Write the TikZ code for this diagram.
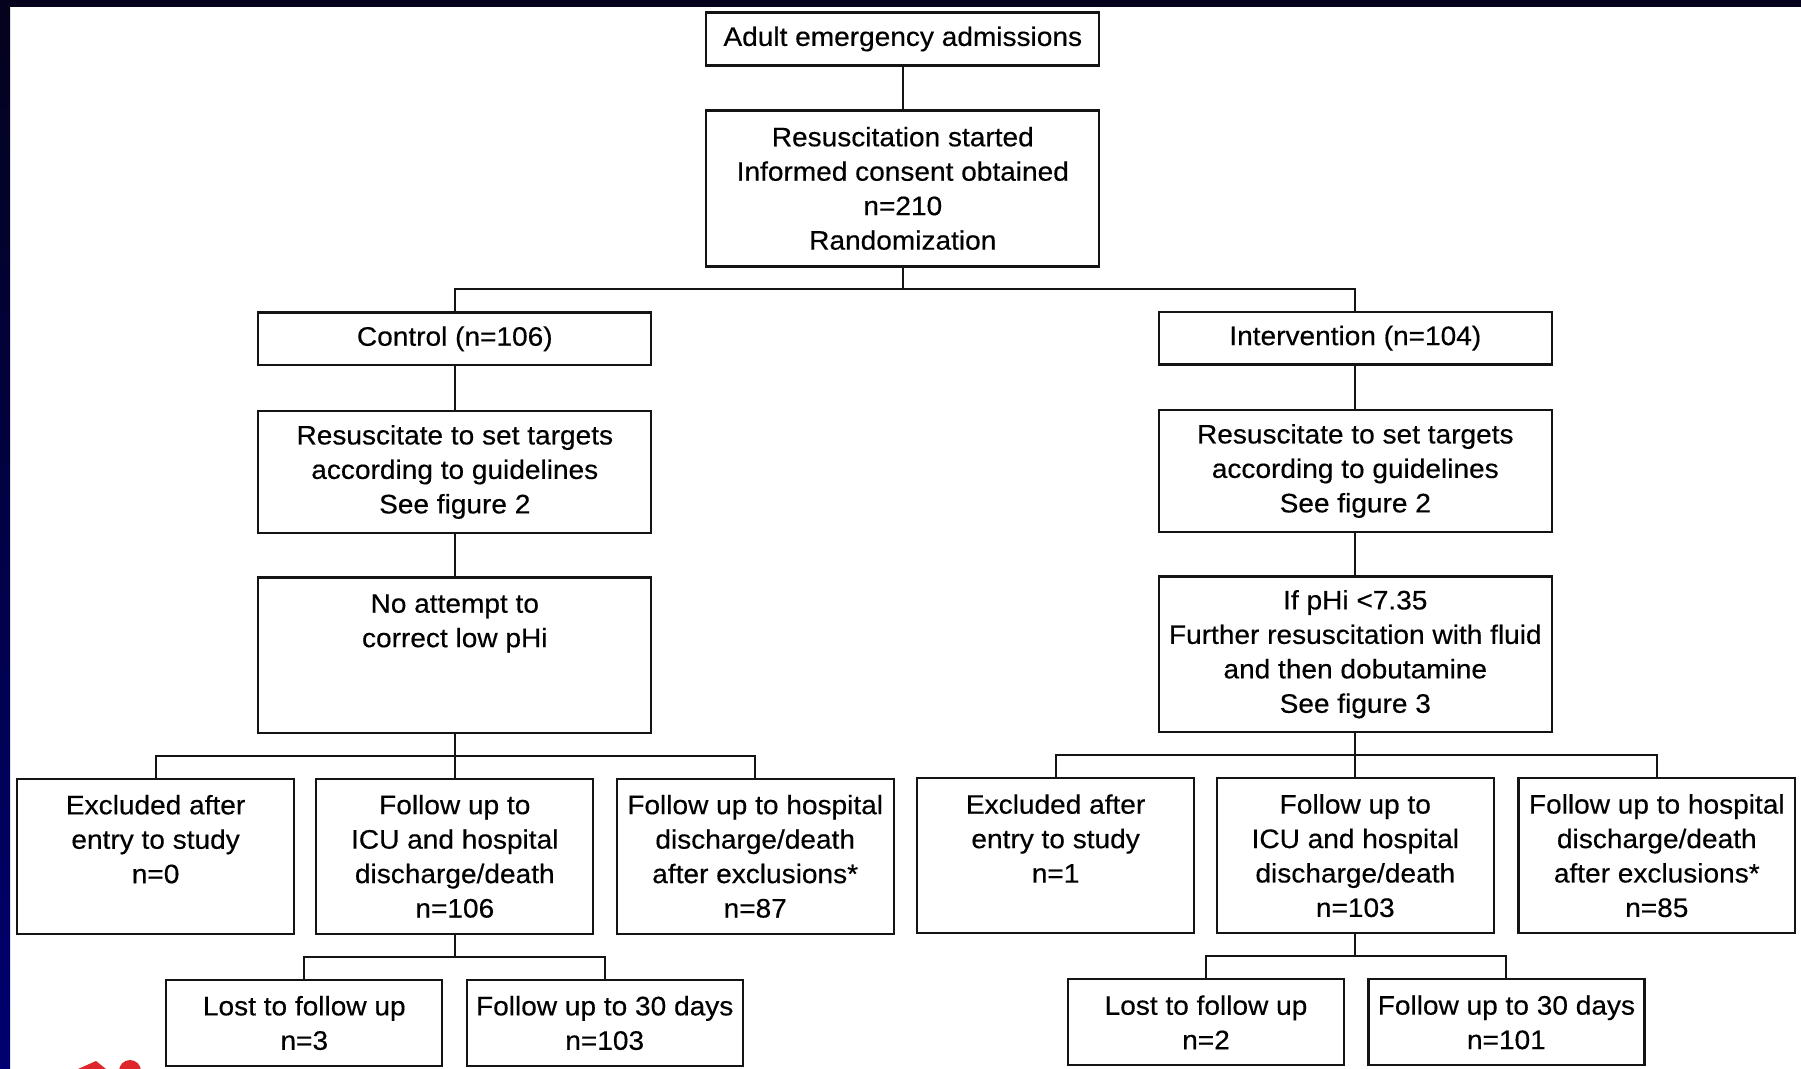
\documentclass[tikz,border=0pt]{standalone}
\usepackage{fontspec}
\setmainfont{Liberation Sans}[FakeStretch=1.05,FakeBold=0.4]
\definecolor{frametop}{RGB}{4,2,28}
\definecolor{framenavy}{RGB}{0,0,112}
\definecolor{inkline}{RGB}{20,20,20}
\definecolor{markred}{RGB}{222,38,44}
\begin{document}
\begin{tikzpicture}[x=0.025cm,y=-0.025cm,
  box/.style={draw=inkline,line width=1.6pt,inner sep=0pt,align=center,
    font=\fontsize{19}{24.5}\selectfont,text=black},
  widebox/.style={box,minimum width=9.82cm},
  smallbox/.style={box,minimum width=6.92cm,minimum height=3.88cm},
  lastbox/.style={box,minimum width=6.9cm,minimum height=2.15cm},
  link/.style={draw=inkline,line width=1.5pt}]
\useasboundingbox (0,0) rectangle (1801,1069);
\clip (0,0) rectangle (1801,1069);
\fill[white] (0,0) rectangle (1801,1069);
% slide frame
\fill[frametop] (0,0) rectangle (1801,7);
\shade[top color=frametop,bottom color=framenavy] (0,0) rectangle (10,1069);

% top of the chart
\node[widebox,minimum height=1.32cm] (admit) at (902.8,39) {Adult emergency admissions};
\node[widebox,minimum height=3.9cm] (rand) at (902.8,188.4)
  {Resuscitation started\\Informed consent obtained\\n=210\\Randomization};
\coordinate (jA) at (902.8,289.4);

% control arm
\node[widebox,minimum height=1.32cm] (ctrl) at (454.8,338.8) {Control (n=106)};
\node[widebox,minimum height=3.05cm] (resL) at (454.8,472)
  {Resuscitate to set targets\\according to guidelines\\See figure 2};
\node[widebox,minimum height=3.88cm] (noL) at (454.8,655.2)
  {No attempt to\\correct low pHi\\\mbox{}\\\mbox{}};
\coordinate (jL) at (454.8,755.8);
\node[smallbox] (exL) at (155.6,856.3) {Excluded after\\entry to study\\n=0\\\mbox{}};
\node[smallbox] (icuL) at (454.8,856.3) {Follow up to\\ICU and hospital\\discharge/death\\n=106};
\node[smallbox] (hosL) at (755.2,856.3) {Follow up to hospital\\discharge/death\\after exclusions*\\n=87};
\coordinate (jL2) at (454.8,956.8);
\node[lastbox] (lostL) at (304.3,1023) {Lost to follow up\\n=3};
\node[lastbox] (f30L) at (604.7,1023) {Follow up to 30 days\\n=103};

% intervention arm
\node[widebox,minimum height=1.32cm] (intv) at (1355.3,338.2) {Intervention (n=104)};
\node[widebox,minimum height=3.05cm] (resR) at (1355.3,471)
  {Resuscitate to set targets\\according to guidelines\\See figure 2};
\node[widebox,minimum height=3.88cm] (phR) at (1355.3,654.2)
  {If pHi {<}7.35\\Further resuscitation with fluid\\and then dobutamine\\See figure 3};
\coordinate (jR) at (1355.3,754.6);
\node[smallbox] (exR) at (1055.6,855.7) {Excluded after\\entry to study\\n=1\\\mbox{}};
\node[smallbox] (icuR) at (1355.3,855.7) {Follow up to\\ICU and hospital\\discharge/death\\n=103};
\node[smallbox] (hosR) at (1656.8,855.7) {Follow up to hospital\\discharge/death\\after exclusions*\\n=85};
\coordinate (jR2) at (1355.3,955.6);
\node[lastbox] (lostR) at (1206,1022.3) {Lost to follow up\\n=2};
\node[lastbox] (f30R) at (1506.4,1022.3) {Follow up to 30 days\\n=101};

% connectors
\draw[link] (admit) -- (rand);
\draw[link] (rand.south) -- (jA);
\draw[link] (ctrl.north) |- (jA) -| (intv.north);
\draw[link] (ctrl) -- (resL);
\draw[link] (resL) -- (noL);
\draw[link] (intv) -- (resR);
\draw[link] (resR) -- (phR);
\draw[link] (noL.south) -- (jL);
\draw[link] (exL.north) |- (jL) -| (hosL.north);
\draw[link] (jL) -- (icuL.north);
\draw[link] (phR.south) -- (jR);
\draw[link] (exR.north) |- (jR) -| (hosR.north);
\draw[link] (jR) -- (icuR.north);
\draw[link] (icuL.south) -- (jL2);
\draw[link] (lostL.north) |- (jL2) -| (f30L.north);
\draw[link] (icuR.south) -- (jR2);
\draw[link] (lostR.north) |- (jR2) -| (f30R.north);

% red pointer mark at the lower edge
\fill[markred] (78,1069) -- (96,1061) -- (106,1069) -- cycle;
\fill[markred] (130,1071) circle (11);
\end{tikzpicture}
\end{document}
